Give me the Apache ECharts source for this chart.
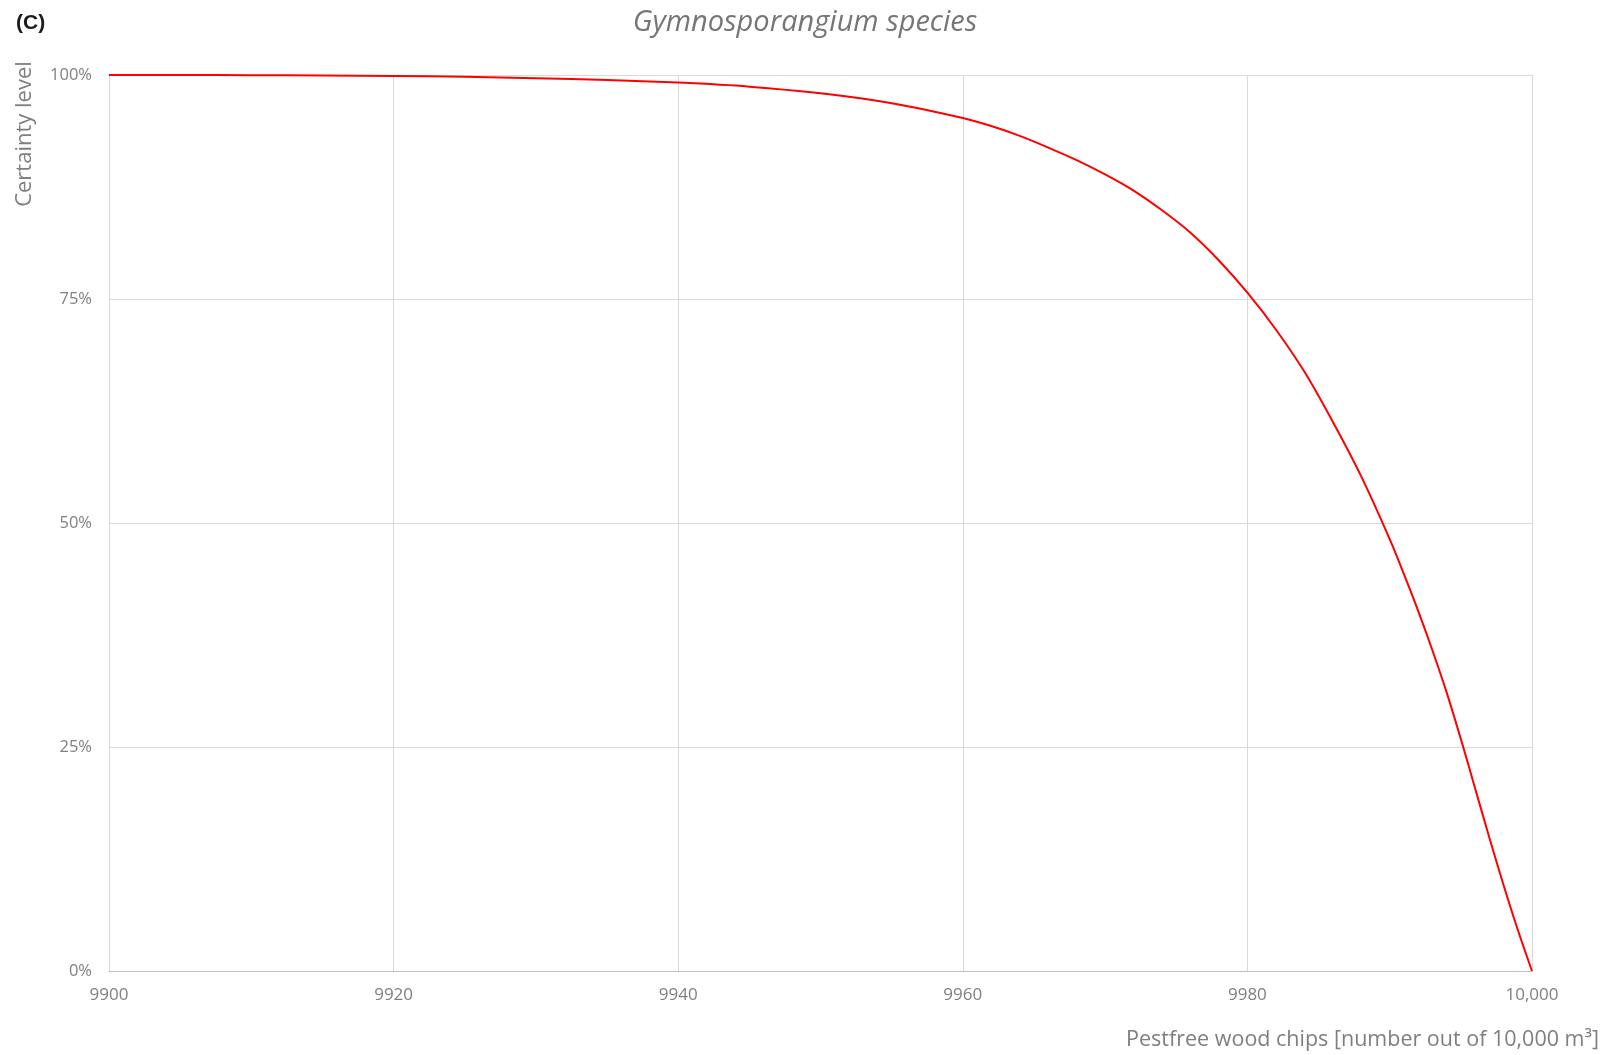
<!DOCTYPE html>
<html>
<head>
<meta charset="utf-8">
<title>Gymnosporangium species</title>
<script src="https://cdn.jsdelivr.net/npm/echarts@6/dist/echarts.min.js"></script>
<style>
  html, body { margin: 0; padding: 0; background: #fff; }
  #chart { width: 1610px; height: 1055px; }
</style>
</head>
<body>
<div id="chart"></div>
<script>
// number of pestfree m3 (x) and certainty level in % (y)
const chips = [9900, 9905, 9910, 9915, 9920, 9925, 9930, 9935, 9940, 9945, 9950, 9955,
  9960, 9962, 9964, 9966, 9968, 9970, 9972, 9974, 9976, 9978, 9980, 9982, 9984, 9986, 9988,
  9990, 9991, 9992, 9993, 9994, 9995, 9996, 9997, 9998, 9999, 10000]
const certainty = [100, 99.99, 99.98, 99.95, 99.9, 99.8, 99.65, 99.45, 99.15, 98.7, 97.95, 96.85,
  95.2, 94.3, 93.2, 91.9, 90.5, 88.9, 87.1, 84.9, 82.4, 79.3, 75.7, 71.6, 66.9, 61.3, 55.2,
  48.2, 44.3, 40.2, 35.8, 31.1, 25.9, 20.4, 14.9, 9.6, 4.6, 0]

const xTicks = [9900, 9920, 9940, 9960, 9980, 10000]
const xTickLabels = ['9900', '9920', '9940', '9960', '9980', '10,000']
const yTicks = [0, 25, 50, 75, 100]
const yTickLabels = ['0%', '25%', '50%', '75%', '100%']

const labelGrey = '#7f7f7f'
const gridGrey = '#d9d9d9'

const chart = echarts.init(document.getElementById('chart'))

chart.setOption({
  backgroundColor: '#fff',
  animation: false,
  textStyle: { fontFamily: 'Open Sans' },
  title: {
    text: 'Gymnosporangium species',
    left: 'center',
    top: 3,
    textStyle: {
      fontFamily: 'Open Sans',
      fontStyle: 'italic',
      fontWeight: 'normal',
      fontSize: 29,
      color: '#767676'
    }
  },
  graphic: [
    {
      type: 'text',
      left: 16,
      top: 13,
      style: { text: '(C)', font: 'bold 21px "Liberation Sans"', fill: '#1a1a1a' }
    },
    {
      type: 'text',
      x: 25,
      y: 134,
      rotation: Math.PI / 2,
      style: {
        text: 'Certainty level',
        font: '22px "Open Sans"',
        fill: labelGrey,
        align: 'center',
        verticalAlign: 'middle'
      }
    },
    {
      type: 'text',
      x: 1599,
      y: 1040,
      style: {
        text: 'Pestfree wood chips [number out of 10,000 m³]',
        font: '21.5px "Open Sans"',
        fill: labelGrey,
        align: 'right',
        verticalAlign: 'middle'
      }
    }
  ],
  grid: {
    left: 109,
    right: 78,
    top: 75,
    bottom: 84,
    outerBoundsMode: 'none'
  },
  xAxis: {
    type: 'value',
    min: 9900,
    max: 10000,
    interval: 20,
    axisTick: { show: false },
    axisLine: { show: true, lineStyle: { color: '#bfbfbf', width: 1 } },
    splitLine: { show: true, lineStyle: { color: gridGrey, width: 1 } },
    axisLabel: {
      color: labelGrey,
      fontSize: 17,
      margin: 16,
      formatter: v => xTickLabels[xTicks.indexOf(v)] ?? String(v)
    }
  },
  yAxis: {
    type: 'value',
    min: 0,
    max: 100,
    interval: 25,
    axisTick: { show: false },
    axisLine: { show: true, lineStyle: { color: gridGrey, width: 1 } },
    splitLine: { show: true, lineStyle: { color: gridGrey, width: 1 } },
    axisLabel: {
      color: labelGrey,
      fontSize: 16.5,
      margin: 17,
      formatter: v => yTickLabels[yTicks.indexOf(v)] ?? v + '%'
    }
  },
  series: [
    {
      type: 'line',
      data: chips.map((c, i) => [c, certainty[i]]),
      smooth: 0.3,
      showSymbol: false,
      lineStyle: { color: '#ff0000', width: 2 },
      itemStyle: { color: '#ff0000' }
    }
  ]
})
</script>
</body>
</html>
